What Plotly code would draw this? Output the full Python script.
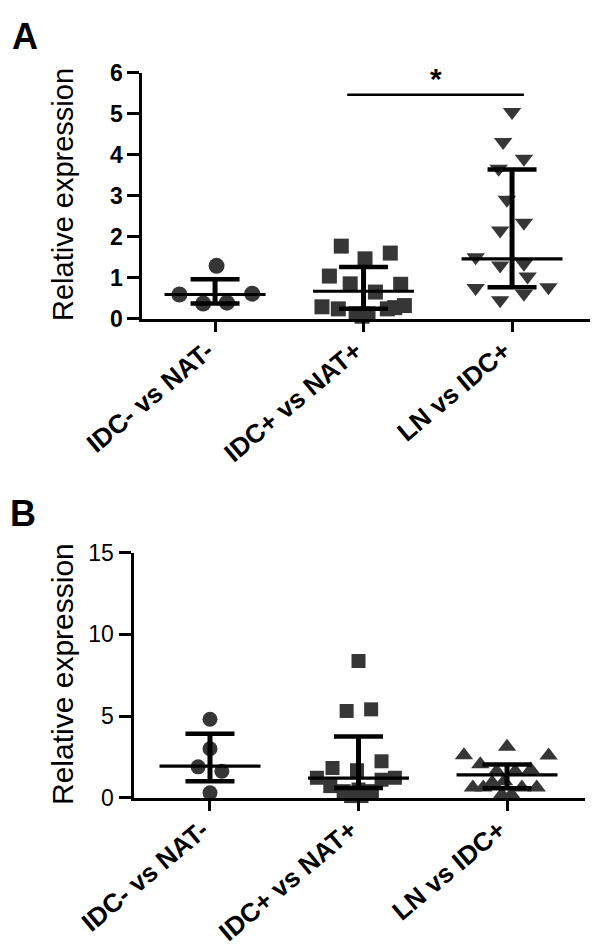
import plotly.graph_objects as go

# ---------------- data ----------------
categories = ["IDC- vs NAT-", "IDC+ vs NAT+", "LN vs IDC+"]

# Panel A values
a_g1 = [1.29, 0.59, 0.37, 0.39, 0.61]
a_g2 = [1.77, 1.60, 1.46, 1.04, 0.85, 0.84, 0.65, 0.29, 0.24, 0.12, 0.12, 0.27, 0.32, 0.24, 0.06]
a_g3 = [5.04, 4.31, 3.90, 3.66, 2.90, 2.34, 2.15, 1.50, 1.30, 1.34, 1.03, 0.75, 0.45, 0.61, 0.77]
a_median = [0.59, 0.67, 1.46]
a_q1 = [0.37, 0.24, 0.77]
a_q3 = [0.96, 1.26, 3.64]

# Panel B values
b_g1 = [4.80, 3.00, 1.89, 1.62, 0.30]
b_g2 = [8.37, 5.31, 5.41, 2.23, 1.82, 1.68, 1.22, 1.22, 1.10, 0.71, 0.40, 0.50, 0.40, 0.10, 0.10]
b_g3 = [2.60, 3.12, 2.58, 2.05, 1.62, 1.62, 1.72, 0.62, 0.93, 0.62, 0.62, 0.20, 0.20, 0.62, 1.00]
b_median = [1.93, 1.20, 1.40]
b_q1 = [1.01, 0.60, 0.58]
b_q3 = [3.91, 3.75, 2.03]

# horizontal scatter (jitter) offsets, in category units
jit_a1 = [0.01, -0.24, -0.08, 0.08, 0.25]
jit_a2 = [-0.15, 0.18, 0.01, -0.23, -0.09, 0.25, 0.08, -0.28, -0.17, -0.05, 0.03, 0.21, 0.275, 0.16, -0.01]
jit_a3 = [0.00, -0.06, 0.08, -0.09, -0.035, 0.08, -0.08, -0.245, -0.08, 0.08, 0.105, -0.245, -0.08, 0.08, 0.245]
jit_b1 = [0.00, 0.00, -0.08, 0.08, 0.00]
jit_b2 = [0.00, -0.08, 0.085, 0.155, -0.175, -0.01, -0.28, 0.245, 0.155, -0.19, -0.10, 0.00, 0.09, -0.05, 0.02]
jit_b3 = [-0.29, 0.00, 0.28, -0.18, -0.07, 0.055, 0.16, -0.23, -0.10, -0.16, 0.20, -0.035, 0.03, 0.10, -0.02]

sig_pair = [0.89, 2.08]
sig_y = 5.46
star_y = 5.86

# ---------------- figure ----------------
W, H = 600, 947
OFF = 8  # page body margin
MARK = "#363636"
FONT = "Liberation Sans, Arial, sans-serif"

fig = go.Figure()


def add_points(vals, jit, cat, symbol, size, xa, ya):
    fig.add_trace(go.Scatter(
        x=[cat + j for j in jit], y=vals, mode="markers",
        marker=dict(symbol=symbol, size=size, color=MARK, line=dict(width=0)),
        xaxis=xa, yaxis=ya, cliponaxis=False, showlegend=False, hoverinfo="y"))


def add_stats(med, q1, q3, xa, ya):
    hx, hy, vx, vy, cx, cy = [], [], [], [], [], []
    for i in range(len(med)):
        hx += [i - 0.34, i + 0.34, None]
        hy += [med[i], med[i], None]
        vx += [i, i, None]
        vy += [q1[i], q3[i], None]
        cx += [i - 0.165, i + 0.165, None, i - 0.165, i + 0.165, None]
        cy += [q1[i], q1[i], None, q3[i], q3[i], None]
    fig.add_trace(go.Scatter(x=hx, y=hy, mode="lines", line=dict(color="black", width=3.2),
                             xaxis=xa, yaxis=ya, cliponaxis=False, showlegend=False, hoverinfo="skip"))
    fig.add_trace(go.Scatter(x=vx, y=vy, mode="lines", line=dict(color="black", width=5),
                             xaxis=xa, yaxis=ya, cliponaxis=False, showlegend=False, hoverinfo="skip"))
    fig.add_trace(go.Scatter(x=cx, y=cy, mode="lines", line=dict(color="black", width=4.5),
                             xaxis=xa, yaxis=ya, cliponaxis=False, showlegend=False, hoverinfo="skip"))


# Panel A
add_points(a_g1, jit_a1, 0, "circle", 16, "x", "y")
add_points(a_g2, jit_a2, 1, "square", 15, "x", "y")
add_points(a_g3, jit_a3, 2, "triangle-down", 16, "x", "y")
add_stats(a_median, a_q1, a_q3, "x", "y")

# Panel B
add_points(b_g1, jit_b1, 0, "circle", 15, "x2", "y2")
add_points(b_g2, jit_b2, 1, "square", 14, "x2", "y2")
add_points(b_g3, jit_b3, 2, "triangle-up", 16, "x2", "y2")
add_stats(b_median, b_q1, b_q3, "x2", "y2")


def px_x(p):
    return (p - OFF) / W


def px_y(p):
    return 1 - (p - OFF) / H


axis_common = dict(showline=True, linecolor="black", linewidth=3, ticks="outside",
                   tickcolor="black", tickwidth=3, showgrid=False, zeroline=False,
                   fixedrange=True, automargin=False)

xtick_common = dict(tickvals=[0, 1, 2], ticktext=categories, tickangle=-40, ticklen=10,
                    ticklabelshift=-8, ticklabelstandoff=-6,
                    tickfont=dict(size=26, weight="bold", family=FONT))

fig.update_layout(
    width=W, height=H, margin=dict(l=0, r=0, t=0, b=0, pad=0, autoexpand=False),
    paper_bgcolor="white", plot_bgcolor="white",
    font=dict(family=FONT, color="black"),
    xaxis=dict(domain=[px_x(142.3), px_x(590)], range=[-0.49, 2.525], anchor="y",
               **xtick_common, **axis_common),
    yaxis=dict(domain=[px_y(318.7), px_y(72.7)], range=[0, 6], anchor="x",
               tickvals=[0, 1, 2, 3, 4, 5, 6], ticklen=12,
               tickfont=dict(size=23, weight="bold", family=FONT), **axis_common),
    xaxis2=dict(domain=[px_x(133.5), px_x(585)], range=[-0.515, 2.525], anchor="y2",
                **xtick_common, **axis_common),
    yaxis2=dict(domain=[px_y(797.7), px_y(552.7)], range=[0, 15], anchor="x2",
                tickvals=[0, 5, 10, 15], ticklen=12,
                tickfont=dict(size=23, family=FONT), **axis_common),
)

# significance bar and star (panel A)
fig.add_shape(type="line", xref="x", yref="y", x0=sig_pair[0], x1=sig_pair[1],
              y0=sig_y, y1=sig_y, line=dict(color="black", width=2.5))
fig.add_annotation(xref="x", yref="y", x=sum(sig_pair) / 2, y=star_y, text="<b>*</b>",
                   xanchor="center", yanchor="middle",
                   showarrow=False, font=dict(size=30, family=FONT, color="black"))

# y-axis titles
fig.add_annotation(xref="paper", yref="paper", x=px_x(63), y=px_y(195), text="Relative expression",
                   xanchor="center", yanchor="middle",
                   textangle=-90, showarrow=False, font=dict(size=29, family=FONT, color="black"))
fig.add_annotation(xref="paper", yref="paper", x=px_x(62), y=px_y(674), text="Relative expression",
                   xanchor="center", yanchor="middle",
                   textangle=-90, showarrow=False, font=dict(size=30, family=FONT, color="black"))

# panel letters
fig.add_annotation(xref="paper", yref="paper", x=px_x(25), y=px_y(36), text="<b>A</b>",
                   xanchor="center", yanchor="middle",
                   showarrow=False, font=dict(size=36, family=FONT, color="black"))
fig.add_annotation(xref="paper", yref="paper", x=px_x(23), y=px_y(514), text="<b>B</b>",
                   xanchor="center", yanchor="middle",
                   showarrow=False, font=dict(size=36, family=FONT, color="black"))

fig.write_html("out.html")
